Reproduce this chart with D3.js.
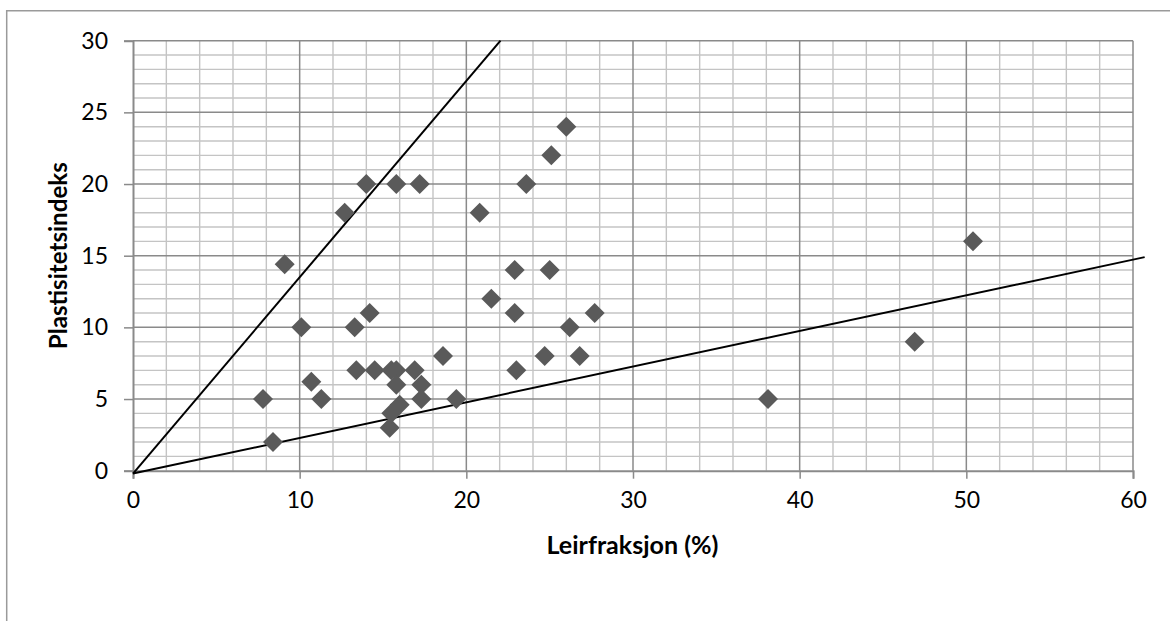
<!DOCTYPE html>
<html>
<head>
<meta charset="utf-8">
<script src="https://cdn.jsdelivr.net/npm/d3@7"></script>
<style>
  html, body { margin: 0; padding: 0; background: #fff; }
  svg { display: block; }
  text { font-family: Lato, "Open Sans", sans-serif; fill: #000; }
</style>
</head>
<body>
<svg id="chart" width="1170" height="621"></svg>
<script>
// ---- Data ----
const clayFraction = [7.8, 8.4, 9.1, 10.1, 10.7, 11.3, 12.7, 13.3, 13.4, 14.0, 14.2, 14.5, 15.4, 15.5, 15.5, 15.8, 15.8, 15.8, 16.0, 16.9, 17.2, 17.3, 17.3, 18.6, 19.4, 20.8, 21.5, 22.9, 22.9, 23.0, 23.6, 24.7, 25.0, 25.1, 26.0, 26.2, 26.8, 27.7, 38.1, 46.9, 50.4];
const plasticityIndex = [5, 2, 14.4, 10, 6.2, 5, 18, 10, 7, 20, 11, 7, 3, 4, 7, 7, 6, 20, 4.6, 7, 20, 6, 5, 8, 5, 18, 12, 14, 11, 7, 20, 8, 14, 22, 24, 10, 8, 11, 5, 9, 16];
const upperLineX = [0, 22.05];
const upperLineY = [-0.2, 30];
const lowerLineX = [0, 60.7];
const lowerLineY = [-0.2, 14.9];
const xTicks = [0, 10, 20, 30, 40, 50, 60];
const yTicks = [0, 5, 10, 15, 20, 25, 30];
const xMinor = [2, 4, 6, 8, 12, 14, 16, 18, 22, 24, 26, 28, 32, 34, 36, 38, 42, 44, 46, 48, 52, 54, 56, 58];
const yMinor = [1, 2, 3, 4, 6, 7, 8, 9, 11, 12, 13, 14, 16, 17, 18, 19, 21, 22, 23, 24, 26, 27, 28, 29];
const xTitle = "Leirfraksjon (%)";
const yTitle = "Plastisitetsindeks";

// ---- Layout ----
const svg = d3.select("#chart");
const L = 133, R = 1133, T = 40.7, B = 470.7;
const x = d3.scaleLinear().domain([0, 60]).range([L, R]);
const y = d3.scaleLinear().domain([0, 30]).range([B, T]);

// chart outer border (top & left visible)
svg.append("path")
  .attr("d", `M6.7,621 L6.7,10.7 L1170,10.7`)
  .attr("fill", "none").attr("stroke", "#9a9a9a").attr("stroke-width", 1.5);

const grid = svg.append("g");
// minor gridlines
grid.selectAll("line.vmin").data(xMinor).join("line")
  .attr("x1", d => x(d)).attr("x2", d => x(d)).attr("y1", T).attr("y2", B)
  .attr("stroke", "#c4c4c4").attr("stroke-width", 1.4);
grid.selectAll("line.hmin").data(yMinor).join("line")
  .attr("x1", L).attr("x2", R).attr("y1", d => y(d)).attr("y2", d => y(d))
  .attr("stroke", "#c4c4c4").attr("stroke-width", 1.4);
// major gridlines
grid.selectAll("line.vmaj").data(xTicks.slice(1)).join("line")
  .attr("x1", d => x(d)).attr("x2", d => x(d)).attr("y1", T).attr("y2", B)
  .attr("stroke", "#8a8a8a").attr("stroke-width", 1.5);
grid.selectAll("line.hmaj").data(yTicks.slice(1)).join("line")
  .attr("x1", L).attr("x2", R).attr("y1", d => y(d)).attr("y2", d => y(d))
  .attr("stroke", "#8a8a8a").attr("stroke-width", 1.5);

// axes
const xAxis = svg.append("g").attr("transform", `translate(0,${B})`)
  .call(d3.axisBottom(x).tickValues(xTicks).tickSize(8).tickPadding(13).tickFormat(d3.format("d")));
const yAxis = svg.append("g").attr("transform", `translate(${L},0)`)
  .call(d3.axisLeft(y).tickValues(yTicks).tickSize(9).tickPadding(16).tickFormat(d3.format("d")));
[xAxis, yAxis].forEach(a => {
  a.select(".domain").attr("stroke", "#8a8a8a").attr("stroke-width", 2);
  a.selectAll(".tick line").attr("stroke", "#8a8a8a").attr("stroke-width", 1.5);
  a.selectAll(".tick text").attr("font-family", "Lato, 'Open Sans', sans-serif")
    .attr("font-size", 23).attr("fill", "#000");
});

// reference lines
const line = d3.line().x(d => x(d[0])).y(d => y(d[1]));
svg.append("path").datum(d3.zip(upperLineX, upperLineY)).attr("d", line)
  .attr("fill", "none").attr("stroke", "#000").attr("stroke-width", 2);
svg.append("path").datum(d3.zip(lowerLineX, lowerLineY)).attr("d", line)
  .attr("fill", "none").attr("stroke", "#000").attr("stroke-width", 2);

// markers (diamonds)
const pts = d3.zip(clayFraction, plasticityIndex);
const diamond = d3.symbol().type(d3.symbolSquare).size(200);
svg.append("g").selectAll("path").data(pts).join("path")
  .attr("d", diamond)
  .attr("transform", d => `translate(${x(d[0])},${y(d[1])}) rotate(45)`)
  .attr("fill", "#5a5a5a");

// titles
svg.append("text").attr("x", 632.5).attr("y", 554)
  .attr("text-anchor", "middle").attr("font-weight", "bold").attr("font-size", 24)
  .attr("textLength", 172).attr("lengthAdjust", "spacingAndGlyphs")
  .text(xTitle);
svg.append("text").attr("transform", "translate(66.5,255.7) rotate(-90)")
  .attr("text-anchor", "middle").attr("font-weight", "bold").attr("font-size", 24)
  .attr("textLength", 187).attr("lengthAdjust", "spacingAndGlyphs")
  .text(yTitle);
</script>
</body>
</html>
